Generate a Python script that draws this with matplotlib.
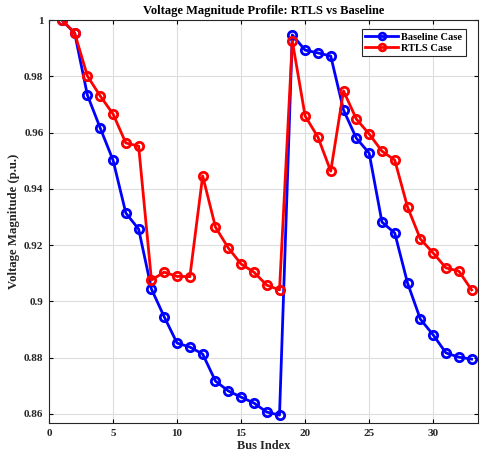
import numpy as np
import matplotlib
matplotlib.use("Agg")
import matplotlib.pyplot as plt

bus = np.arange(1, 34)
baseline = [1.0, 0.9954, 0.9733, 0.9616, 0.9502, 0.9314, 0.9257, 0.9044, 0.8945,
            0.8852, 0.8838, 0.8813, 0.8717, 0.8682, 0.8660, 0.8639, 0.8607, 0.8596,
            0.9947, 0.9893, 0.9883, 0.9872, 0.9680, 0.9580, 0.9527, 0.9282, 0.9243,
            0.9065, 0.8937, 0.8881, 0.8817, 0.8802, 0.8795]
rtls = [1.0, 0.9954, 0.9801, 0.9730, 0.9666, 0.9563, 0.9552, 0.9076, 0.9104,
        0.9089, 0.9088, 0.9446, 0.9264, 0.9190, 0.9133, 0.9104, 0.9058, 0.9041,
        0.9925, 0.9659, 0.9584, 0.9463, 0.9748, 0.9648, 0.9595, 0.9534, 0.9502,
        0.9335, 0.9222, 0.9172, 0.9119, 0.9108, 0.9041]

plt.rcParams['font.family'] = ['Liberation Serif', 'DejaVu Serif']
plt.rcParams['font.weight'] = 'bold'

fig = plt.figure(figsize=(4.83, 4.59), dpi=100)
ax = fig.add_axes([49/483, 1 - 423/459, (478 - 49)/483, (423 - 20)/459])

ax.plot(bus, baseline, '-o', color='blue', lw=2, ms=6, mew=2,
        markerfacecolor='none', label='Baseline Case')
ax.plot(bus, rtls, '-o', color='red', lw=2, ms=6, mew=2,
        markerfacecolor='none', label='RTLS Case')

ax.set_xlim(0, 33.5)
ax.set_ylim(0.8568, 1.0)
ax.set_xticks([0, 5, 10, 15, 20, 25, 30])
ax.set_yticks([0.86, 0.88, 0.9, 0.92, 0.94, 0.96, 0.98, 1.0])
ax.set_yticklabels(['0.86', '0.88', '0.9', '0.92', '0.94', '0.96', '0.98', '1'])
ax.tick_params(direction='in', top=True, right=True, labelsize=8, length=3,
               labelcolor='#262626', pad=4)
for lab in ax.get_xticklabels() + ax.get_yticklabels():
    lab.set_fontweight('bold')
ax.grid(True, color='#dddddd', lw=0.8)
ax.set_axisbelow(True)
for s in ax.spines.values():
    s.set_color('#262626')
    s.set_linewidth(0.8)

ax.set_xlabel('Bus Index', fontsize=8.8, fontweight='bold', labelpad=2,
              color='#262626')
ax.set_ylabel('Voltage Magnitude (p.u.)', fontsize=9.2, fontweight='bold',
              labelpad=3, color='#262626')
ax.set_title('Voltage Magnitude Profile: RTLS vs Baseline', fontsize=9,
             fontweight='bold', pad=4)
leg = ax.legend(loc='upper right', fontsize=7.5, fancybox=False, framealpha=1,
                edgecolor='#262626', borderpad=0.3, handlelength=3.2,
                handletextpad=0.3, labelspacing=0.15, borderaxespad=0.9,
                markerscale=0.8, bbox_to_anchor=(0.993, 1.0))
for t in leg.get_texts():
    t.set_fontweight('bold')
leg.get_frame().set_linewidth(0.8)

fig.savefig('out.png', dpi=100)
